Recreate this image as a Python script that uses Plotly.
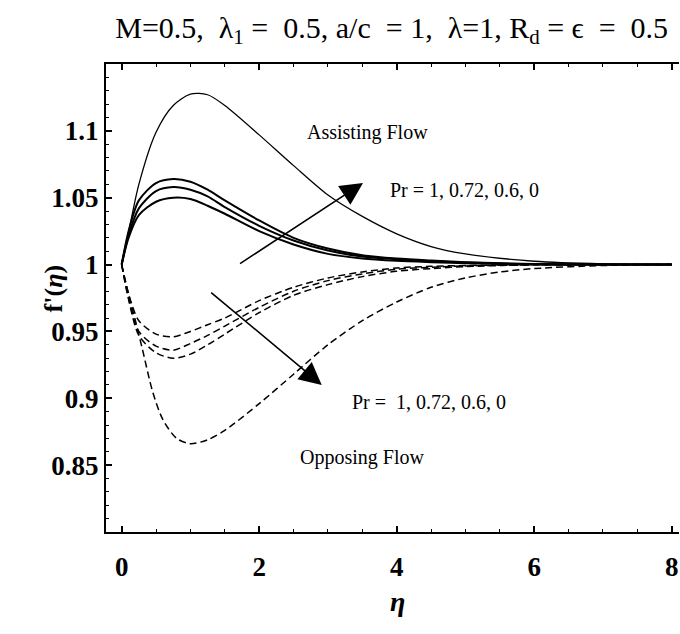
import plotly.graph_objects as go

# Velocity profiles f'(eta) for assisting (solid) and opposing (dashed) flow
eta = [0.0, 0.1, 0.25, 0.5, 0.75, 1.0, 1.25, 1.5, 2.0, 2.5, 3.0, 3.5, 4.0, 4.5, 5.0, 6.0, 7.0, 8.0]

assist_pr0 =   [1.0, 1.024, 1.060, 1.099, 1.119, 1.1275, 1.127, 1.119, 1.097, 1.074, 1.052, 1.036, 1.023, 1.0135, 1.008, 1.0025, 1.0005, 1.0]
assist_pr06 =  [1.0, 1.025, 1.048, 1.061, 1.064, 1.062, 1.056, 1.048, 1.033, 1.020, 1.012, 1.007, 1.0045, 1.003, 1.0018, 1.0004, 1.0, 1.0]
assist_pr072 = [1.0, 1.022, 1.042, 1.055, 1.058, 1.056, 1.051, 1.043, 1.029, 1.018, 1.0105, 1.006, 1.004, 1.0025, 1.0015, 1.0003, 1.0, 1.0]
assist_pr1 =   [1.0, 1.020, 1.037, 1.047, 1.050, 1.049, 1.044, 1.038, 1.025, 1.015, 1.008, 1.0045, 1.0028, 1.0018, 1.001, 1.0002, 1.0, 1.0]

oppose_pr06 =  [1.0, 0.978, 0.958, 0.948, 0.946, 0.950, 0.955, 0.960, 0.973, 0.983, 0.990, 0.9945, 0.9975, 0.9987, 0.9993, 1.0, 1.0, 1.0]
oppose_pr072 = [1.0, 0.975, 0.950, 0.939, 0.936, 0.941, 0.947, 0.954, 0.968, 0.980, 0.988, 0.993, 0.9965, 0.998, 0.999, 0.9998, 1.0, 1.0]
oppose_pr1 =   [1.0, 0.974, 0.947, 0.934, 0.930, 0.933, 0.940, 0.948, 0.964, 0.977, 0.985, 0.991, 0.995, 0.997, 0.9985, 0.9998, 1.0, 1.0]

eta_low = [0.0, 0.1, 0.2, 0.3, 0.45, 0.6, 0.8, 1.0, 1.25, 1.5, 2.0, 2.5, 3.0, 3.5, 4.0, 4.5, 5.0, 5.5, 6.0, 7.0, 8.0]
oppose_pr0 = [1.0, 0.978, 0.958, 0.937, 0.905, 0.884, 0.870, 0.866, 0.869, 0.876, 0.896, 0.918, 0.940, 0.958, 0.972, 0.983, 0.990, 0.9945, 0.997, 0.9993, 1.0]

fig = go.Figure()

solid = [(assist_pr0, 1.3), (assist_pr06, 2.0), (assist_pr072, 2.0), (assist_pr1, 2.0)]
for ys, w in solid:
    fig.add_trace(go.Scatter(x=eta, y=ys, mode="lines",
                             line=dict(color="black", width=w, shape="spline", smoothing=0.8),
                             showlegend=False, hoverinfo="skip"))

dashed = [(eta, oppose_pr06), (eta, oppose_pr072), (eta, oppose_pr1), (eta_low, oppose_pr0)]
for xs, ys in dashed:
    fig.add_trace(go.Scatter(x=xs, y=ys, mode="lines",
                             line=dict(color="black", width=1.5, dash="7px,4px", shape="spline", smoothing=0.8),
                             showlegend=False, hoverinfo="skip"))

serif = "Liberation Serif, Times New Roman, serif"

axis_common = dict(
    showgrid=False, zeroline=False, showline=True, linecolor="black", linewidth=2,
    ticks="inside", ticklen=6, tickwidth=1.5, tickcolor="black",
    tickfont=dict(family=serif, size=27, color="black", weight="bold"),
)

fig.update_xaxes(range=[-0.228, 8.106], tickmode="linear", tick0=0, dtick=2, mirror="allticks",
                 minor=dict(dtick=0.5, ticks="inside", ticklen=3, tickcolor="black", tickwidth=1.2),
                 ticklabelstandoff=10, **axis_common)
fig.update_yaxes(range=[0.8, 1.15], tickmode="linear", tick0=0.8, dtick=0.05,
                 labelalias={"0.8": "", "1.15": ""},
                 minor=dict(dtick=0.01, ticks="inside", ticklen=3, tickcolor="black", tickwidth=1.2),
                 **axis_common)

annotations = [
    dict(text="Assisting Flow", x=3.57, y=1.099, size=20),
    dict(text="Pr = 1, 0.72, 0.6, 0", x=4.98, y=1.056, size=20),
    dict(text="Pr =  1, 0.72, 0.6, 0", x=4.47, y=0.897, size=20),
    dict(text="Opposing Flow", x=3.49, y=0.856, size=20),
]
for a in annotations:
    fig.add_annotation(x=a["x"], y=a["y"], text=a["text"], showarrow=False,
                       font=dict(family=serif, size=a["size"], color="black"))

# Direction-of-increasing-Pr arrows (tail -> tip)
arrows = [((1.70, 1.000), (3.51, 1.061)), ((1.28, 0.980), (2.91, 0.910))]
for (tx, ty), (hx, hy) in arrows:
    fig.add_annotation(x=hx, y=hy, ax=tx, ay=ty, xref="x", yref="y", axref="x", ayref="y",
                       text="", showarrow=True, arrowhead=2, arrowsize=2.8, arrowwidth=1.6,
                       arrowcolor="black")

fig.add_annotation(xref="paper", yref="paper", x=-0.12, y=0.52, text="<b>f'(<i>η</i>)</b>",
                   textangle=-90, showarrow=False,
                   font=dict(family=serif, size=26, color="black"))
fig.add_annotation(xref="paper", yref="paper", x=0.508, y=-0.185, text="<b><i>η</i></b>",
                   showarrow=False, font=dict(family=serif, size=28, color="black"))

fig.update_layout(
    width=680, height=634,
    margin=dict(l=106, r=1, t=64, b=102),
    paper_bgcolor="white", plot_bgcolor="white",
    title=dict(text="M=0.5,  λ<sub>1</sub> =  0.5, a/c  = 1,  λ=1, R<sub>d</sub> = ϵ  =  0.5",
               x=0.576, xanchor="center", y=0.957, yanchor="middle",
               font=dict(family=serif, size=30, color="black")),
)

fig.write_html("out.html")
